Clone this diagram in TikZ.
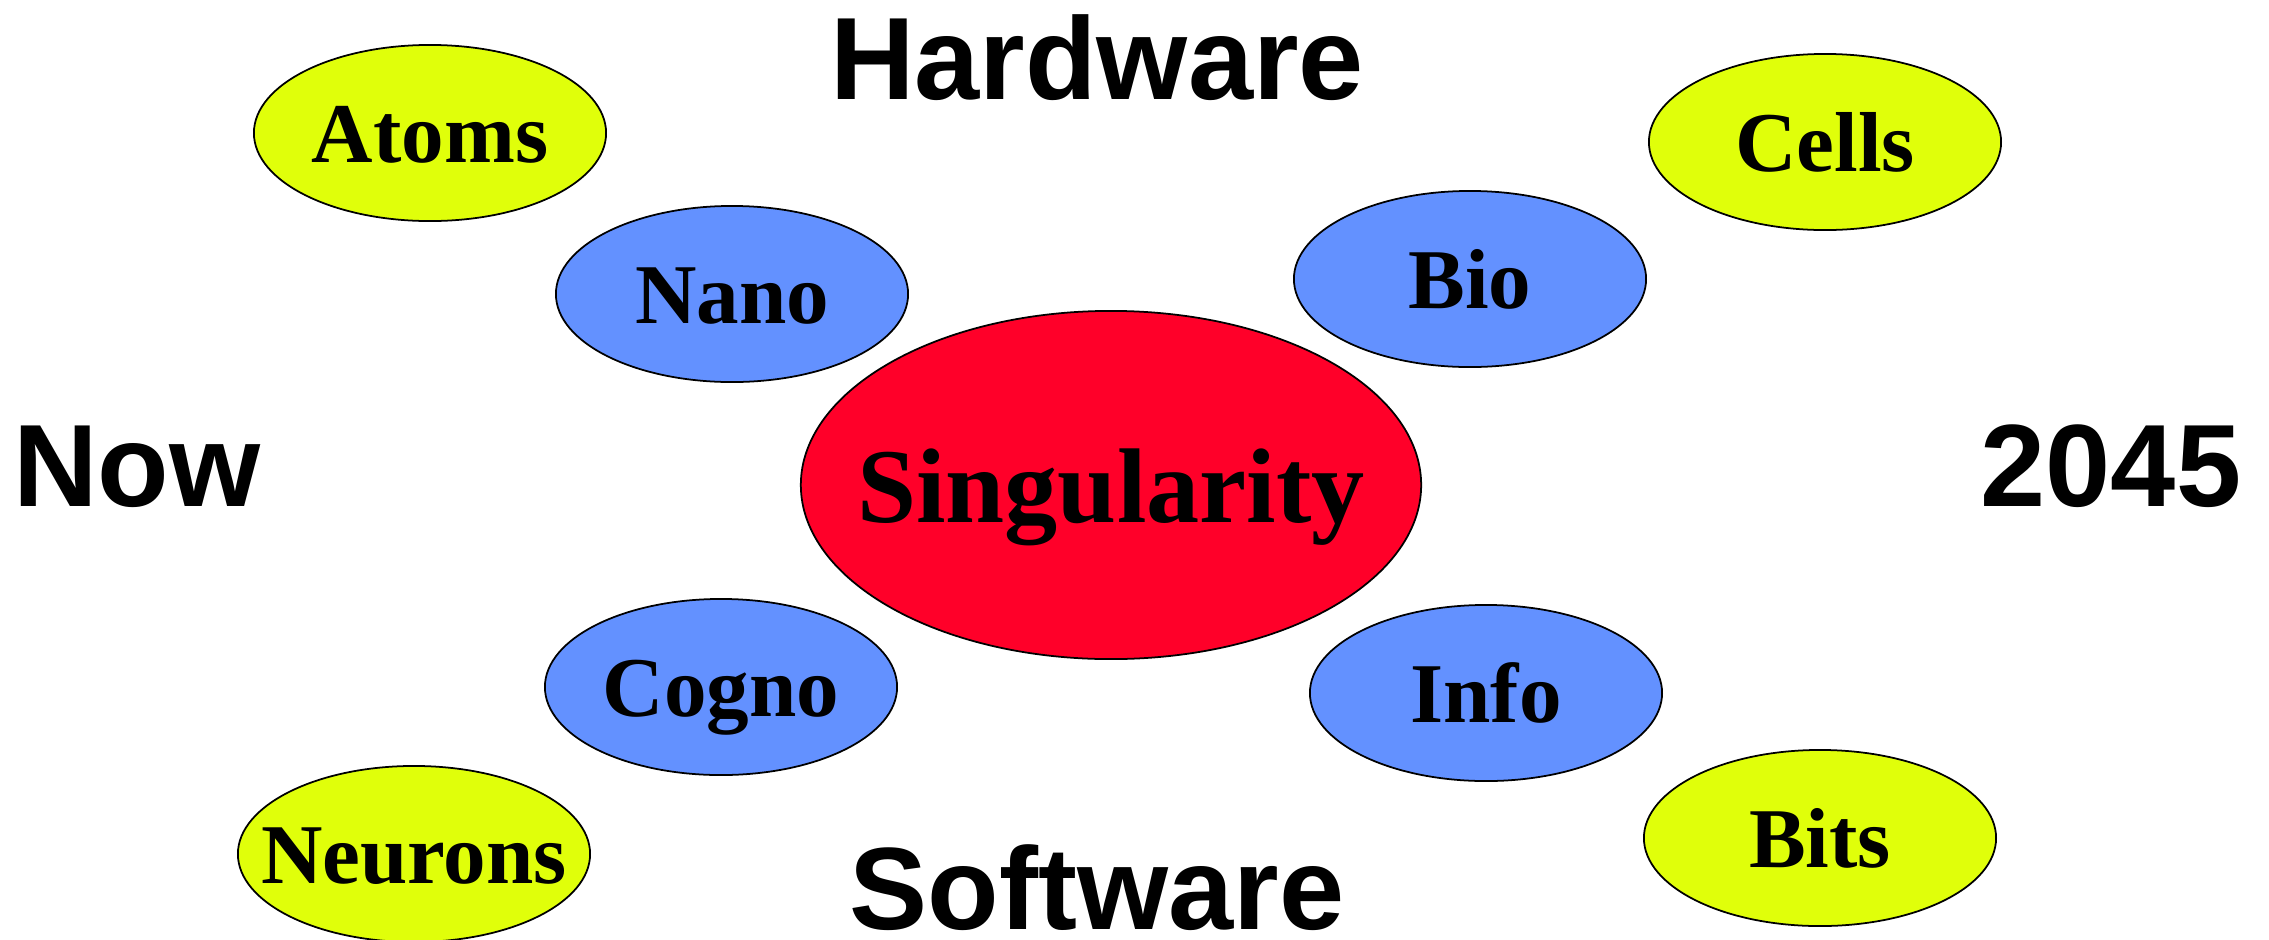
\documentclass[tikz,border=0pt]{standalone}
\usepackage{fontspec}
\setmainfont{Liberation Serif}
\newfontfamily\labsans{Liberation Sans}
\usetikzlibrary{shapes.geometric}
\definecolor{cyel}{RGB}{224,255,10}
\definecolor{cblue}{RGB}{99,145,255}
\definecolor{cred}{RGB}{255,0,41}
\tikzset{
  bub/.style={ellipse, draw=black, line width=0.5pt, inner sep=0pt,
    minimum width=3.52cm, minimum height=1.76cm,
    font=\fontsize{24.2}{29}\selectfont\bfseries, text height=17pt, text depth=0pt, text width=0pt, align=center},
  outer/.style={bub, fill=cyel},
  inner/.style={bub, fill=cblue},
  core/.style={ellipse, draw=black, line width=0.5pt, inner sep=0pt, fill=cred,
    minimum width=6.2cm, minimum height=3.48cm,
    font=\fontsize{30.2}{36}\selectfont\bfseries, text height=21.5pt, text depth=0pt},
  axis/.style={font=\labsans\fontsize{33.3}{40}\selectfont\bfseries, anchor=base, inner sep=0pt}
}
\newcommand{\zw}[1]{\makebox[0pt]{#1}}
\begin{document}
\begin{tikzpicture}[x=0.01cm, y=-0.01cm]
\useasboundingbox (0,0) rectangle (2269,939);
\node[outer] (atoms) at (430,133) {\zw{Atoms}};
\node[outer] (cells) at (1825,142) {\zw{Cells}};
\node[outer] (neurons) at (414,854) {\zw{Neurons}};
\node[outer] (bits) at (1820,838) {\zw{Bits}};
\node[inner] (nano) at (732,294) {\zw{Nano}};
\node[inner] (bio) at (1470,279) {\zw{Bio}};
\node[inner] (cogno) at (721,687) {\zw{Cogno}};
\node[inner] (info) at (1486,693) {\zw{Info}};
\node[core] (sing) at (1111,485) {\zw{Singularity}};
\node[axis] (hw) at (1097,99) {Hardware};
\node[axis] (sw) at (1097,929) {Software};
\node[axis] (now) at (137,506) {Now};
\node[axis] (yr) at (2111,506) {2045};
\end{tikzpicture}
\end{document}
